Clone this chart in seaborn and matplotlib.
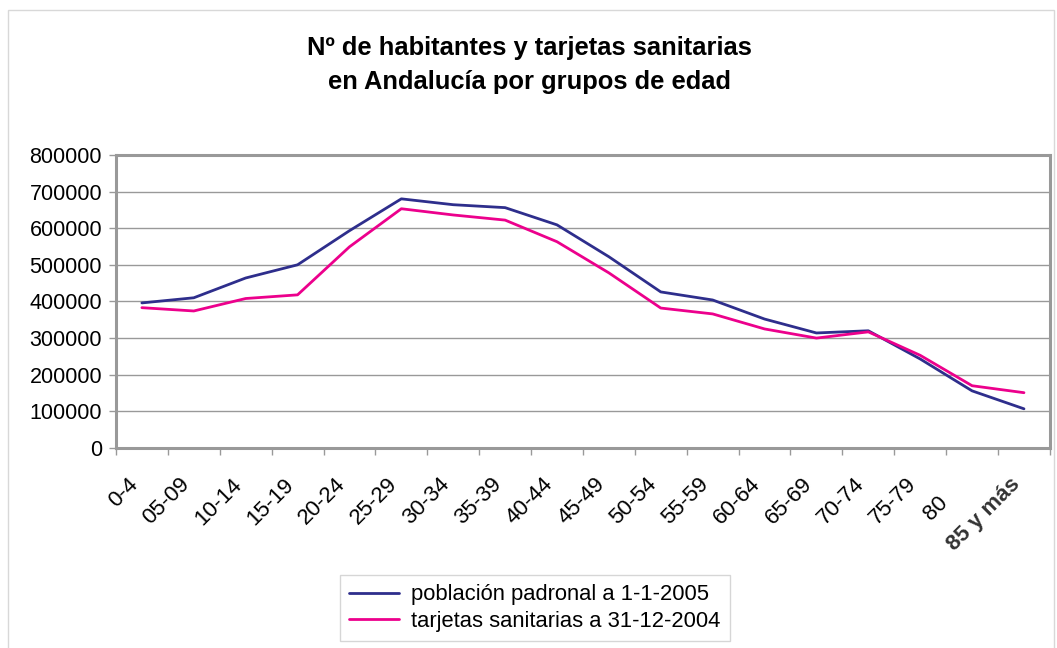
import matplotlib

matplotlib.use("Agg")

import matplotlib.pyplot as plt
import matplotlib.transforms as mtransforms
import pandas as pd
import seaborn as sns
from matplotlib.ticker import FixedLocator, MultipleLocator

grupos = ["0-4", "05-09", "10-14", "15-19", "20-24", "25-29", "30-34", "35-39",
          "40-44", "45-49", "50-54", "55-59", "60-64", "65-69", "70-74", "75-79",
          "80", "85 y más"]
poblacion = [396000, 410000, 464000, 500000, 593000, 680000, 664000, 656000,
             609000, 522000, 426000, 404000, 352000, 314000, 320000, 243000,
             156000, 107000]
tarjetas = [383000, 374000, 408000, 418000, 549000, 653000, 636000, 622000,
            563000, 478000, 382000, 366000, 325000, 300000, 317000, 253000,
            170000, 151000]
series_names = ["población padronal a 1-1-2005", "tarjetas sanitarias a 31-12-2004"]
colors = ["#2E2E8C", "#EC008C"]

df = pd.concat([
    pd.DataFrame({"grupo": grupos, "valor": poblacion, "serie": series_names[0]}),
    pd.DataFrame({"grupo": grupos, "valor": tarjetas, "serie": series_names[1]}),
])

sns.set_style("white")
plt.rcParams["font.family"] = ["Liberation Sans", "DejaVu Sans"]
plt.rcParams["text.color"] = "black"

fig = plt.figure(figsize=(10.57, 6.48), dpi=100)
ax = fig.add_axes([0.1097, 0.3086, 0.8836, 0.4524])

sns.lineplot(data=df, x="grupo", y="valor", hue="serie", palette=colors,
             sort=False, linewidth=2, ax=ax, legend=True)

ax.set_xlim(-0.5, len(grupos) - 0.5)
ax.set_ylim(0, 800000)
ax.yaxis.set_major_locator(MultipleLocator(100000))
ax.yaxis.grid(True, color="#999999", linewidth=1)
ax.set_axisbelow(True)
ax.set_xlabel("")
ax.set_ylabel("")

for s in ax.spines.values():
    s.set_color("#999999")
    s.set_linewidth(2.2)

ax.tick_params(axis="y", labelsize=15.5, colors="#999999", labelcolor="black",
               left=True, length=5, width=1, pad=5)
ax.set_xticks(range(len(grupos)))
ax.set_xticklabels(grupos, rotation=45, ha="right", va="center",
                   rotation_mode="anchor", fontsize=16)
ax.tick_params(axis="x", which="major", length=0, pad=24, labelcolor="black")
ax.xaxis.set_minor_locator(FixedLocator([i - 0.5 for i in range(len(grupos) + 1)]))
ax.tick_params(axis="x", which="minor", bottom=True, length=5, width=1, colors="#999999")

shift = mtransforms.ScaledTranslation(-7 / 100, 0, fig.dpi_scale_trans)
for lbl in ax.get_xticklabels():
    lbl.set_transform(lbl.get_transform() + shift)
# "80" sits further down-left in the original (trailing blanks)
lbl80 = ax.get_xticklabels()[-2]
lbl80.set_transform(lbl80.get_transform()
                    + mtransforms.ScaledTranslation(-20 / 100, -18 / 100, fig.dpi_scale_trans))
last = ax.get_xticklabels()[-1]
last.set_fontweight("bold")
last.set_color("#333333")

handles, labels = ax.get_legend_handles_labels()
ax.get_legend().remove()
fig.legend(handles, labels, loc="center", bbox_to_anchor=(0.506, 0.0617),
           fontsize=15.8, frameon=True, fancybox=False, edgecolor="#cccccc",
           handlelength=2.3, handletextpad=0.55, borderpad=0.4, labelspacing=0.25,
           borderaxespad=0)

fig.suptitle("Nº de habitantes y tarjetas sanitarias\nen Andalucía por grupos de edad",
             x=0.501, y=0.944, fontsize=18.4, fontweight="bold", linespacing=1.5)

fig.patches.append(plt.Rectangle((0.0076, -0.01), 0.9894, 0.9946, transform=fig.transFigure,
                                 fill=False, edgecolor="#d8d8d8", linewidth=1))

fig.savefig("out.png", dpi=100)
plt.close(fig)
